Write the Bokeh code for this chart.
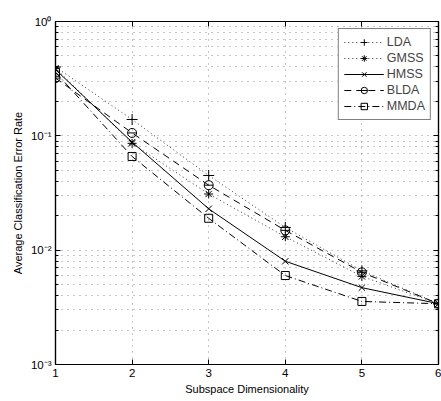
from bokeh.plotting import figure
from bokeh.models import (FixedTicker, LogAxis, LinearAxis, CustomJSTickFormatter,
                          Legend, LegendItem)
from bokeh.embed import file_html
from bokeh.resources import INLINE

# ---- data ----
dims = [1, 2, 3, 4, 5, 6]
lda = [0.40, 0.139, 0.045, 0.0158, 0.0066, 0.0034]
gmss = [0.39, 0.086, 0.031, 0.0131, 0.0059, 0.0034]
hmss = [0.38, 0.088, 0.023, 0.0080, 0.0047, 0.0034]
blda = [0.32, 0.106, 0.037, 0.0149, 0.0064, 0.0034]
mmda = [0.36, 0.066, 0.019, 0.0060, 0.00356, 0.0034]
x_ticks = [1, 2, 3, 4, 5, 6]
y_ticks = [1e-3, 1e-2, 1e-1, 1.0]

FONT = "Liberation Sans"

p = figure(width=441, height=401, y_axis_type="log", x_range=(1, 6), y_range=(1e-3, 1),
           output_backend="svg", toolbar_location=None,
           min_border_left=55, min_border_right=3, min_border_top=21, min_border_bottom=37)
p.background_fill_color = "white"
p.border_fill_color = "white"
p.outline_line_color = "black"
p.outline_line_width = 1.2

minor = [k * 10.0 ** e for e in (-3, -2, -1) for k in range(2, 10)]
sup_js = """
const e = Math.round(Math.log10(tick));
const m = {"0":"\u2070","1":"\u00b9","2":"\u00b2","3":"\u00b3","-":"\u207b"};
return "10" + String(e).split("").map(c => m[c]).join("");
"""

def style_axis(ax):
    ax.axis_line_color = "black"
    ax.axis_line_width = 1.2
    ax.major_tick_in = 5
    ax.major_tick_out = 0
    ax.minor_tick_in = 3
    ax.minor_tick_out = 0
    ax.major_tick_line_color = "black"
    ax.minor_tick_line_color = "black"
    ax.major_label_text_font = FONT
    ax.major_label_text_font_size = "11.5px"
    ax.major_label_text_color = "black"
    ax.axis_label_text_font = FONT
    ax.axis_label_text_font_size = "11px"
    ax.axis_label_text_font_style = "normal"
    ax.axis_label_text_color = "black"

xa = p.xaxis[0]
xa.ticker = FixedTicker(ticks=x_ticks)
xa.axis_label = "Subspace Dimensionality"
xa.axis_label_standoff = 3
xa.major_label_standoff = 4
style_axis(xa)

ya = p.yaxis[0]
ya.ticker = FixedTicker(ticks=y_ticks, minor_ticks=minor)
ya.formatter = CustomJSTickFormatter(code=sup_js)
ya.axis_label = "Average Classification Error Rate"
ya.axis_label_standoff = 4
ya.major_label_standoff = 4
style_axis(ya)

blank = CustomJSTickFormatter(code="return '';")
ra = LogAxis(ticker=FixedTicker(ticks=y_ticks, minor_ticks=minor), formatter=blank)
style_axis(ra)
ra.major_label_standoff = 0
p.add_layout(ra, "right")
ta = LinearAxis(ticker=FixedTicker(ticks=x_ticks), formatter=blank)
style_axis(ta)
ta.major_label_standoff = 0
p.add_layout(ta, "above")

GRID = "#8c8c8c"
p.xgrid.ticker = FixedTicker(ticks=x_ticks)
p.xgrid.grid_line_color = GRID
p.xgrid.grid_line_dash = "1 5"
p.ygrid.ticker = FixedTicker(ticks=y_ticks, minor_ticks=minor)
p.ygrid.grid_line_color = GRID
p.ygrid.grid_line_dash = "1 5"
p.ygrid.minor_grid_line_color = GRID
p.ygrid.minor_grid_line_dash = "1 5"

items = []
l1 = p.line(dims, lda, line_color="#333333", line_width=1, line_dash="1 3")
m1 = p.scatter(dims, lda, marker="cross", size=11, line_color="black", fill_color=None)
items.append(LegendItem(label="LDA", renderers=[l1, m1]))

l2 = p.line(dims, gmss, line_color="#333333", line_width=1, line_dash="1 3")
m2 = p.scatter(dims, gmss, marker="asterisk", size=9, line_color="black", fill_color=None)
items.append(LegendItem(label="GMSS", renderers=[l2, m2]))

l3 = p.line(dims, hmss, line_color="black", line_width=1)
m3 = p.scatter(dims, hmss, marker="x", size=9, line_color="black", fill_color=None)
items.append(LegendItem(label="HMSS", renderers=[l3, m3]))

l4 = p.line(dims, blda, line_color="black", line_width=1, line_dash="7 5")
m4 = p.scatter(dims, blda, marker="circle", size=9, line_color="black", fill_color=None)
m4b = p.scatter(dims, blda, marker="dash", size=9, line_color="black", fill_color=None)
items.append(LegendItem(label="BLDA", renderers=[l4, m4, m4b]))

l5 = p.line(dims, mmda, line_color="black", line_width=1, line_dash="7 3 1 3")
m5 = p.scatter(dims, mmda, marker="square", size=8, line_color="black", fill_color=None)
items.append(LegendItem(label="MMDA", renderers=[l5, m5]))

leg = Legend(items=items, location="top_right")
leg.margin = 7
leg.padding = 5
leg.spacing = 0
leg.glyph_width = 40
leg.glyph_height = 16
leg.label_height = 16
leg.label_standoff = 3
leg.label_text_font = FONT
leg.label_text_font_size = "12.5px"
leg.border_line_color = "black"
leg.border_line_width = 1.2
leg.background_fill_color = "white"
leg.background_fill_alpha = 1
p.add_layout(leg, "center")

open("out.html", "w").write(file_html(p, INLINE))
